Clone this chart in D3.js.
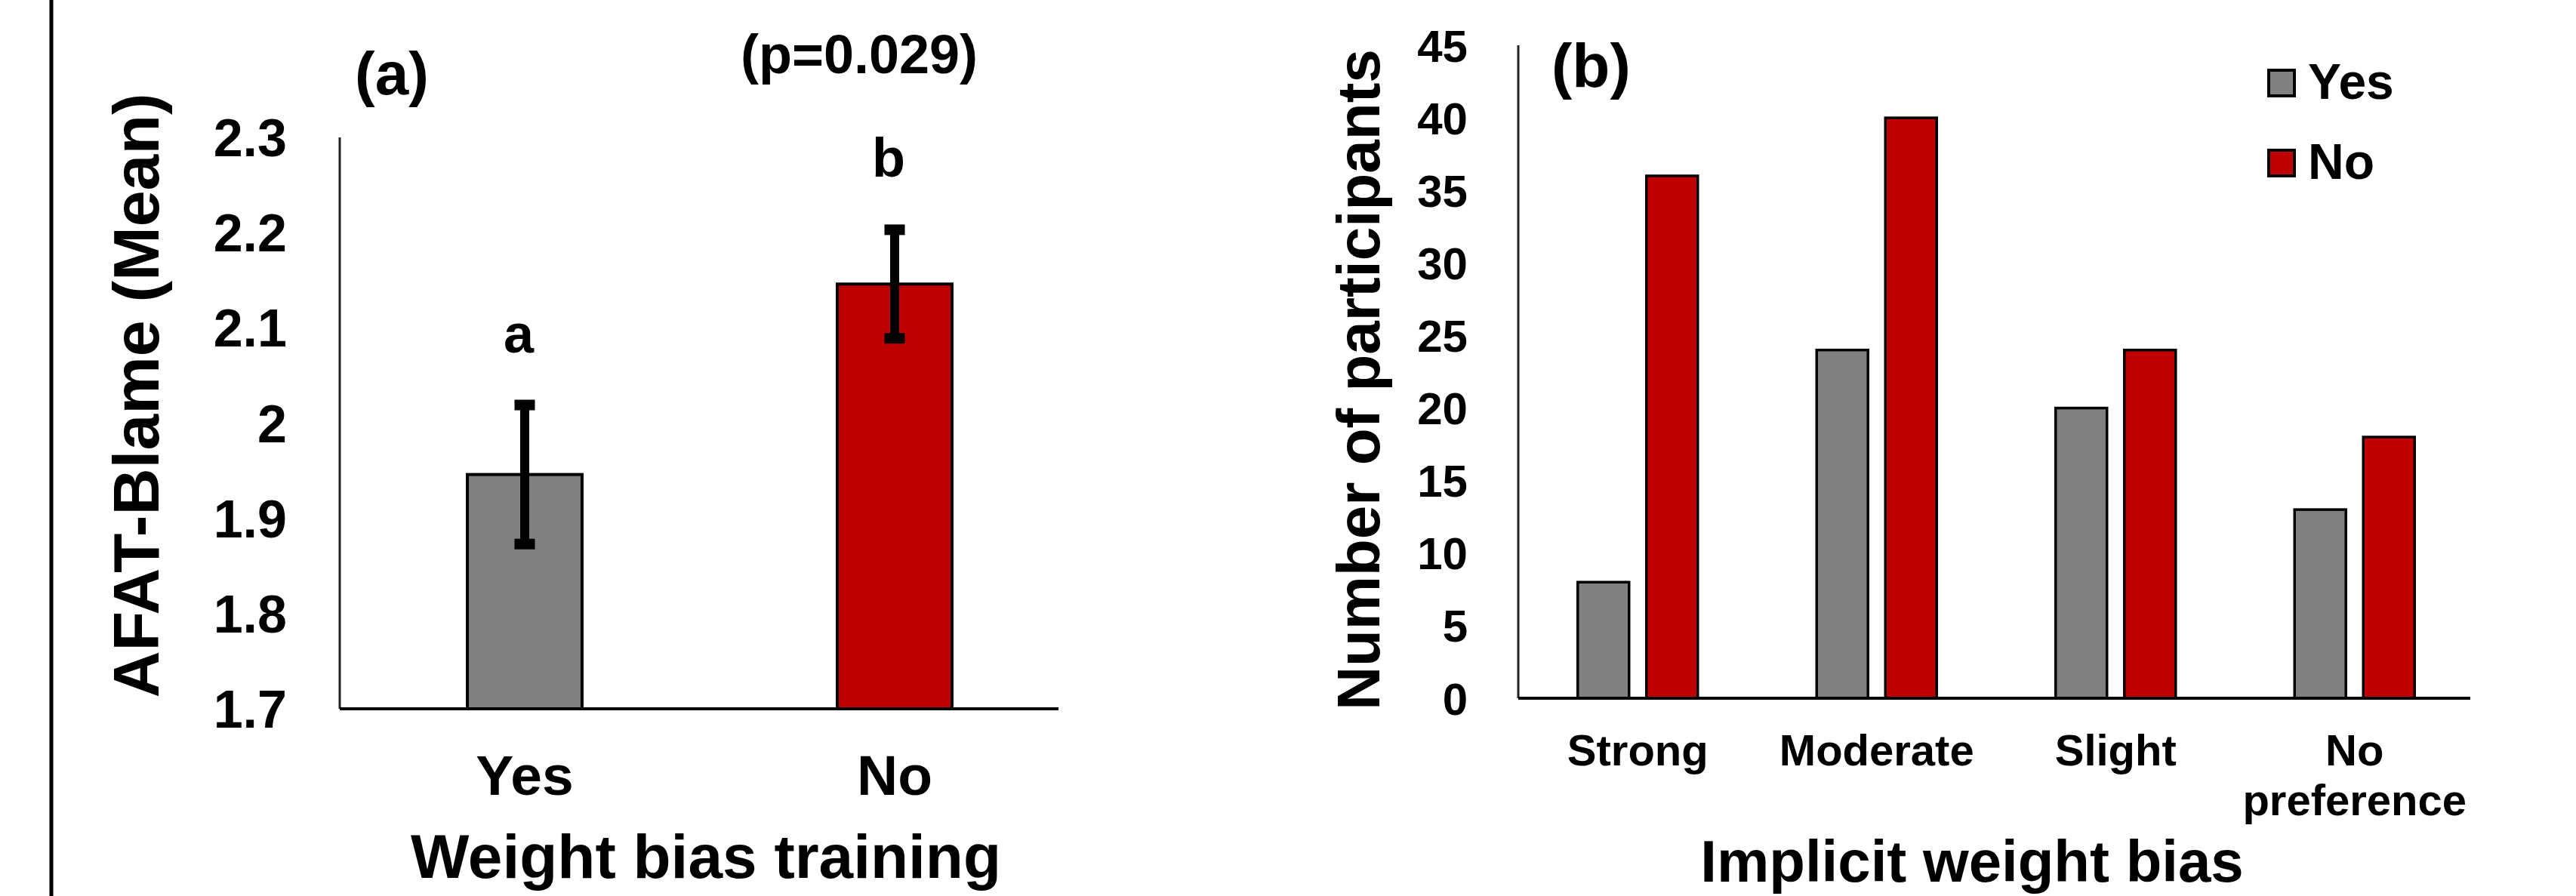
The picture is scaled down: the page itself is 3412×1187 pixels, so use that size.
<!DOCTYPE html>
<html>
<head>
<meta charset="utf-8">
<script src="https://cdn.jsdelivr.net/npm/d3@7"></script>
<style>
  html, body { margin: 0; padding: 0; background: #fff; }
  svg { display: block; }
  text { font-family: "Liberation Sans", Arial, sans-serif; font-weight: bold; fill: #000; }
</style>
</head>
<body>
<svg id="chart" width="3412" height="1187"></svg>
<script>
// ---------- Data ----------
// Panel (a)
const trainingGroups = ["Yes", "No"];
const blameMeans = [1.946, 2.146];
const blameErrors = [0.073, 0.057];
const sigLetters = ["a", "b"];
const blameTicks = [1.7, 1.8, 1.9, 2.0, 2.1, 2.2, 2.3];
const blameTickLabels = ["1.7", "1.8", "1.9", "2", "2.1", "2.2", "2.3"];
const pValueLabel = "(p=0.029)";

// Panel (b)
const biasCategories = ["Strong", "Moderate", "Slight", "No preference"];
const seriesNames = ["Yes", "No"];
const yesCounts = [8, 24, 20, 13];
const noCounts = [36, 40, 24, 18];
const countTicks = [0, 5, 10, 15, 20, 25, 30, 35, 40, 45];

const colors = { Yes: "#808080", No: "#C00000" };

// ---------- Drawing ----------
const svg = d3.select("#chart");
svg.append("rect").attr("width", 3412).attr("height", 1187).attr("fill", "#fff");

// left frame line
svg.append("line").attr("x1", 68).attr("x2", 68).attr("y1", 0).attr("y2", 1187)
  .attr("stroke", "#000").attr("stroke-width", 5);

// ===== Panel (a) =====
const yA = d3.scaleLinear().domain([1.7, 2.3]).range([939, 182]);
const xA = d3.scaleBand().domain(trainingGroups).range([450, 1430]).padding(0);
const barWA = xA.bandwidth() * 0.31;

const gA = svg.append("g");
// y axis
const yAxisA = d3.axisLeft(yA).tickValues(blameTicks).tickSize(0).tickPadding(70)
  .tickFormat((d, i) => blameTickLabels[i]);
const gyA = gA.append("g").attr("transform", "translate(450,0)").call(yAxisA);
gyA.select(".domain").remove();
gyA.selectAll("text").style("font-size", "70px").attr("font-family", null).attr("dy", "0.35em");
gA.append("line").attr("x1", 450).attr("x2", 450).attr("y1", yA(2.3)).attr("y2", yA(1.7))
  .attr("stroke", "#222").attr("stroke-width", 3);

const dataA = trainingGroups.map((g, i) => ({ g, m: blameMeans[i], e: blameErrors[i], l: sigLetters[i] }));
gA.selectAll("rect.bar").data(dataA).enter().append("rect")
  .attr("class", "bar")
  .attr("x", d => xA(d.g) + xA.bandwidth() / 2 - barWA / 2)
  .attr("width", barWA)
  .attr("y", d => yA(d.m))
  .attr("height", d => yA(1.7) - yA(d.m))
  .attr("fill", d => colors[d.g])
  .attr("stroke", "#000").attr("stroke-width", 4);

// x axis line
gA.append("line").attr("x1", 450).attr("x2", 1402).attr("y1", yA(1.7)).attr("y2", yA(1.7))
  .attr("stroke", "#000").attr("stroke-width", 4);

// error bars
const eb = gA.selectAll("g.err").data(dataA).enter().append("g").attr("class", "err");
eb.append("line")
  .attr("x1", d => xA(d.g) + xA.bandwidth() / 2)
  .attr("x2", d => xA(d.g) + xA.bandwidth() / 2)
  .attr("y1", d => yA(d.m + d.e)).attr("y2", d => yA(d.m - d.e))
  .attr("stroke", "#000").attr("stroke-width", 12);
[1, -1].forEach(s => {
  eb.append("rect")
    .attr("x", d => xA(d.g) + xA.bandwidth() / 2 - 13.5)
    .attr("y", d => yA(d.m + s * d.e) - 7)
    .attr("width", 27).attr("height", 14).attr("fill", "#000");
});
// significance letters
gA.selectAll("text.sig").data(dataA).enter().append("text")
  .attr("class", "sig")
  .attr("x", d => xA(d.g) + xA.bandwidth() / 2 - 8)
  .attr("y", d => yA(d.m + d.e) - 70)
  .attr("text-anchor", "middle").style("font-size", "72px")
  .text(d => d.l);

// x tick labels
gA.selectAll("text.xl").data(trainingGroups).enter().append("text")
  .attr("class", "xl")
  .attr("x", d => xA(d) + xA.bandwidth() / 2)
  .attr("y", 1053).attr("text-anchor", "middle").style("font-size", "75px")
  .text(d => d);

gA.append("text").attr("x", 935).attr("y", 1163).attr("text-anchor", "middle")
  .style("font-size", "82px").text("Weight bias training");
gA.append("text").attr("transform", "translate(210,524) rotate(-90)").attr("text-anchor", "middle")
  .style("font-size", "86px").text("AFAT-Blame (Mean)");
gA.append("text").attr("x", 470).attr("y", 125).style("font-size", "80px").text("(a)");
gA.append("text").attr("x", 1138).attr("y", 97).attr("text-anchor", "middle")
  .style("font-size", "72px").text(pValueLabel);

// ===== Panel (b) =====
const yB = d3.scaleLinear().domain([0, 45]).range([925, 60]);
const xB = d3.scaleBand().domain(biasCategories).range([2011, 3277]).padding(0);
const x1B = d3.scaleBand().domain(seriesNames)
  .range([xB.bandwidth() / 2 - 81.5, xB.bandwidth() / 2 + 81.5]).paddingInner(0.209);

const gB = svg.append("g");
const yAxisB = d3.axisLeft(yB).tickValues(countTicks).tickSize(0).tickPadding(67);
const gyB = gB.append("g").attr("transform", "translate(2011,0)").call(yAxisB);
gyB.select(".domain").remove();
gyB.selectAll("text").style("font-size", "60px").attr("font-family", null).attr("dy", "0.35em");
gB.append("line").attr("x1", 2011).attr("x2", 2011).attr("y1", yB(45)).attr("y2", yB(0))
  .attr("stroke", "#222").attr("stroke-width", 3);

const dataB = biasCategories.map((c, i) => ({ c, vals: [{ s: "Yes", v: yesCounts[i] }, { s: "No", v: noCounts[i] }] }));
const grp = gB.selectAll("g.cat").data(dataB).enter().append("g")
  .attr("class", "cat").attr("transform", d => `translate(${xB(d.c)},0)`);
grp.selectAll("rect").data(d => d.vals).enter().append("rect")
  .attr("x", d => x1B(d.s) + 2)
  .attr("width", x1B.bandwidth() - 4)
  .attr("y", d => yB(d.v))
  .attr("height", d => yB(0) - yB(d.v))
  .attr("fill", d => colors[d.s])
  .attr("stroke", "#000").attr("stroke-width", 3.5);

gB.append("line").attr("x1", 2011).attr("x2", 3272).attr("y1", yB(0)).attr("y2", yB(0))
  .attr("stroke", "#000").attr("stroke-width", 4);

// category labels (multi-line for "No preference")
const catLbl = gB.selectAll("text.cl").data(biasCategories).enter().append("text")
  .attr("class", "cl").attr("text-anchor", "middle").style("font-size", "58px")
  .attr("x", d => xB(d) + xB.bandwidth() / 2).attr("y", 1014);
catLbl.each(function (d) {
  const words = d === "No preference" ? ["No", "preference"] : [d];
  const t = d3.select(this);
  words.forEach((w, i) => {
    t.append("tspan").attr("x", xB(d) + xB.bandwidth() / 2).attr("dy", i === 0 ? 0 : 66).text(w);
  });
});

gB.append("text").attr("x", 2612).attr("y", 1168).attr("text-anchor", "middle")
  .style("font-size", "78px").text("Implicit weight bias");
gB.append("text").attr("transform", "translate(1827,503) rotate(-90)").attr("text-anchor", "middle")
  .style("font-size", "80px").text("Number of participants");
gB.append("text").attr("x", 2055).attr("y", 115).style("font-size", "82px").text("(b)");

// legend
const leg = gB.selectAll("g.leg").data(seriesNames).enter().append("g").attr("class", "leg")
  .attr("transform", (d, i) => `translate(3005,${93 + i * 106})`);
leg.append("rect").attr("width", 34).attr("height", 34)
  .attr("fill", d => colors[d]).attr("stroke", "#000").attr("stroke-width", 4);
leg.append("text").attr("x", 52).attr("y", 38).style("font-size", "66px").text(d => d);
</script>
</body>
</html>
